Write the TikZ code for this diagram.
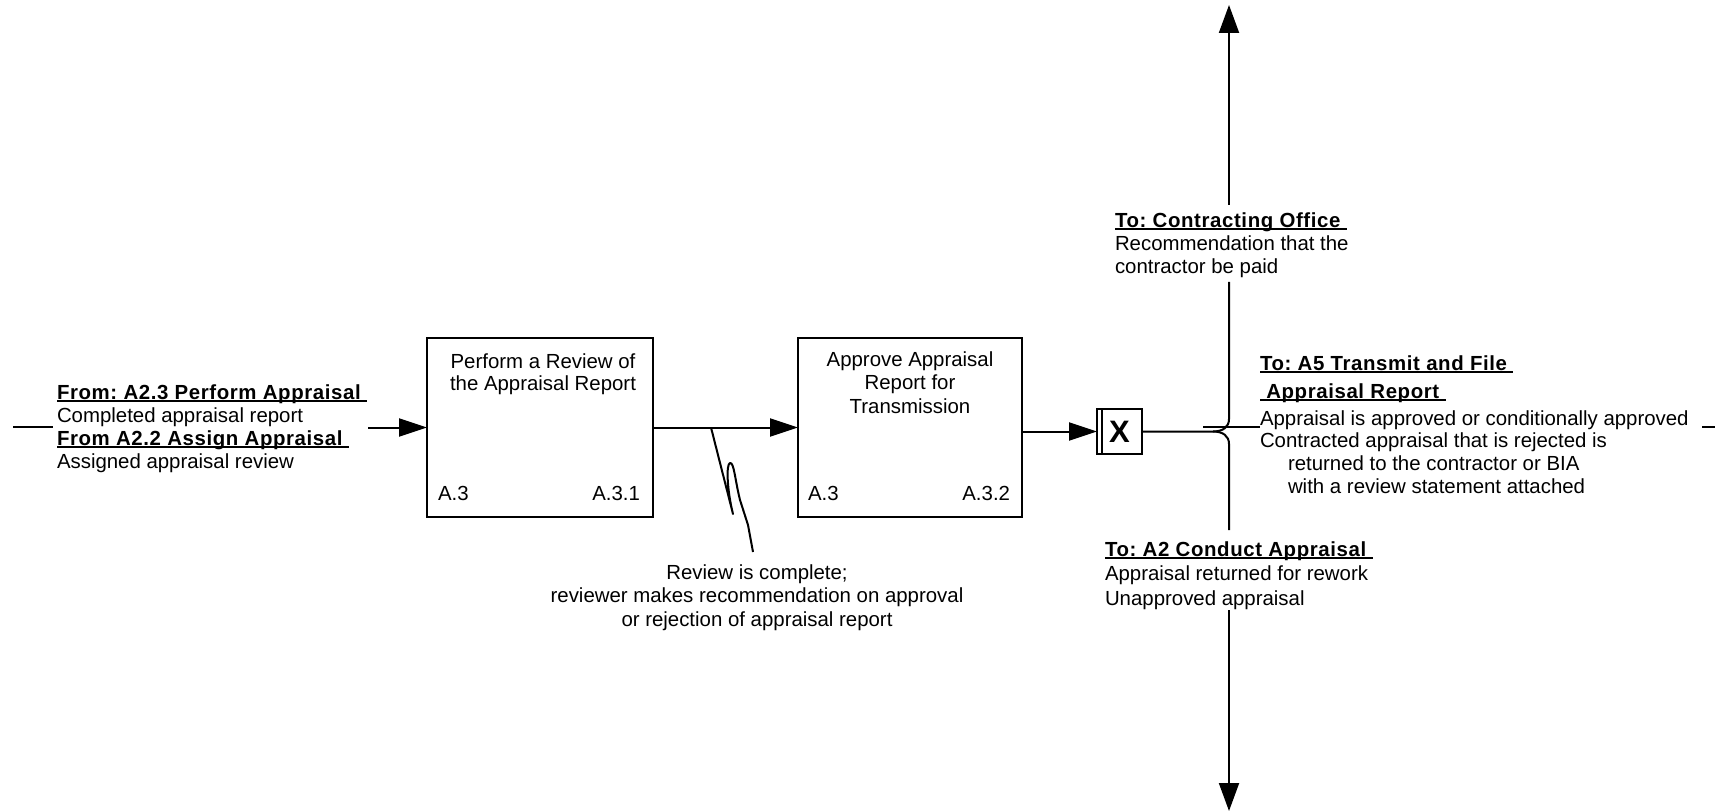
\documentclass[tikz,border=0pt]{standalone}
\usepackage{fontspec}
\setmainfont{Liberation Sans}[BoldFeatures={LetterSpace=3}]
\newfontfamily\xfont{Liberation Sans Bold}
\usetikzlibrary{arrows.meta}
\frenchspacing
% bold heading with an underline sitting just below the baseline
\newcommand{\headul}[1]{\setbox0\hbox{\bfseries #1}\rlap{\rule[-1.3pt]{\wd0}{0.9pt}}\box0}
\begin{document}
\begin{tikzpicture}[x=0.5pt,y=-0.5pt,
  every node/.style={inner sep=0pt,outer sep=0pt},
  txt/.style={font=\fontsize{10.2}{11.6}\selectfont,align=left,anchor=base west},
  ctxt/.style={font=\fontsize{10.2}{11.6}\selectfont,align=center,anchor=base},
  proc/.style={draw,line width=1.1pt,minimum height=89.5pt},
  wire/.style={line width=1pt},
  flow/.style={line width=1pt,-{Triangle[length=14pt,width=9pt]}},
  vflow/.style={line width=1pt,-{Triangle[length=14pt,width=10pt]}},
]
\useasboundingbox (0,0) rectangle (1722,812);

% activity boxes (multi-line labels are placed by the baseline of their last line)
\node[proc,minimum width=113pt] (p1) at (540,427.5) {};
\node[ctxt,font=\fontsize{10.2}{11}\selectfont] (p1t) at (543,390) {Perform a Review of\\the Appraisal Report};
\node[txt] (p1a) at (438,500) {A.3};
\node[txt,anchor=base east] (p1b) at (640,500) {A.3.1};

\node[proc,minimum width=112pt] (p2) at (910,427.5) {};
\node[ctxt,font=\fontsize{10.2}{11.7}\selectfont] (p2t) at (910,413) {Approve Appraisal\\Report for\\Transmission};
\node[txt] (p2a) at (808,500) {A.3};
\node[txt,anchor=base east] (p2b) at (1010,500) {A.3.2};

% exclusive-or junction box
\node[draw,line width=1pt,minimum width=22.5pt,minimum height=22.5pt,
      font=\xfont\fontsize{15.5}{15.5}\selectfont] (xj) at (1119.5,431.5) {X};
\draw[wire] ([xshift=2.5pt]xj.north west) -- ([xshift=2.5pt]xj.south west);

% input arrow and its label
\coordinate (inA) at (13,426.5);
\coordinate (inB) at (53,426.5);
\coordinate (inC) at (368,427.5);
\draw[wire] (inA) -- (inB);
\draw[flow] (inC) -- (p1.west);
\node[txt,font=\fontsize{10.2}{11.5}\selectfont] (lin) at (57,468)
  {\headul{From: A2.3 Perform Appraisal\ }\\Completed appraisal report\\\headul{From A2.2 Assign Appraisal\ }\\Assigned appraisal review};

% flows between boxes
\draw[flow] (p1.east) -- (p2.west);
\draw[flow] (p2.east |- xj.west) -- (xj.west);

% squiggle tying the label to the flow
\coordinate (sq0) at (711,427.5);
\coordinate (sq1) at (753,552);
\draw[wire,line join=round] (sq0) -- (733,514) .. controls (727,490) and (726,464) .. (730,463)
  .. controls (734,462) and (735,480) .. (740,500) -- (748,525) -- (sq1);
\node[ctxt,font=\fontsize{10.2}{11.75}\selectfont] (rev) at (757,626)
  {Review is complete;\\reviewer makes recommendation on approval\\or rejection of appraisal report};

% branching outputs
\coordinate (jA) at (1213,431.5);
\coordinate (jUp) at (1229,419);
\coordinate (jDn) at (1229,444);
\coordinate (up1) at (1229,282);
\coordinate (up2) at (1229,205);
\coordinate (topTip) at (1229,5);
\coordinate (dn1) at (1229,530);
\coordinate (dn2) at (1229,610);
\coordinate (botTip) at (1229,811);
\coordinate (oA) at (1203,427);
\coordinate (oB) at (1260,427);
\coordinate (oC) at (1702,427);
\coordinate (oD) at (1715,427);

\draw[wire] (xj.east) -- (jA) .. controls (1223,431.5) and (1229,427) .. (jUp) -- (up1);
\draw[wire] (jA) .. controls (1223,431.5) and (1229,436) .. (jDn) -- (dn1);
\draw[vflow] (up2) -- (topTip);
\draw[vflow] (dn2) -- (botTip);
\draw[wire] (oA) -- (oB);
\draw[wire] (oC) -- (oD);

\node[txt,font=\fontsize{10.2}{11.7}\selectfont] (lco) at (1115,274)
  {\headul{To: Contracting Office\ }\\Recommendation that the\\contractor be paid};
\node[txt,font=\fontsize{10.2}{11.3}\selectfont] (la5) at (1260,493)
  {\headul{To: A5 Transmit and File\ }\\[2.7pt]\headul{\ Appraisal Report\ }\\[2.2pt]Appraisal is approved or conditionally approved\\Contracted appraisal that is rejected is\\\hspace*{14pt}returned to the contractor or BIA\\\hspace*{14pt}with a review statement attached};
\node[txt,font=\fontsize{10.2}{12.2}\selectfont] (la2) at (1105,605)
  {\headul{To: A2 Conduct Appraisal\ }\\Appraisal returned for rework\\Unapproved appraisal};
\end{tikzpicture}
\end{document}
